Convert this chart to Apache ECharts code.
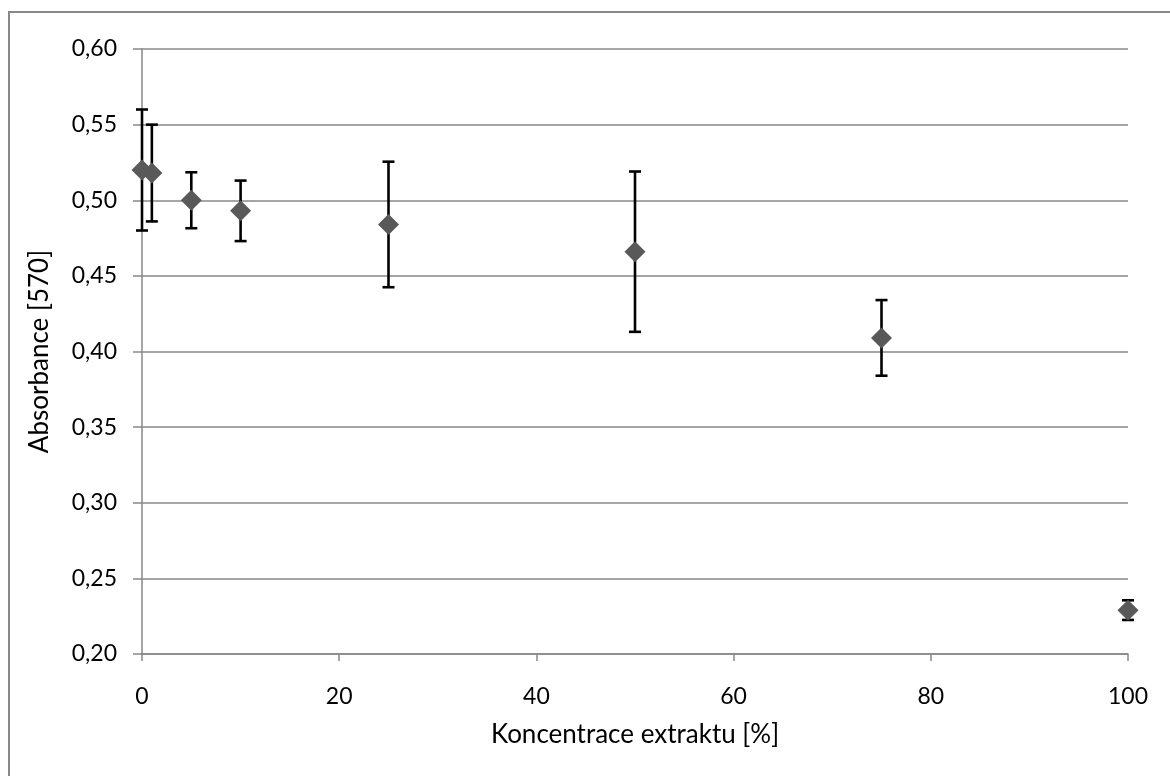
<!DOCTYPE html>
<html>
<head>
<meta charset="utf-8">
<script src="https://cdn.jsdelivr.net/npm/echarts@6/dist/echarts.min.js"></script>
<style>
  html, body { margin: 0; padding: 0; background: #fff; }
  #chart { width: 1170px; height: 776px; }
</style>
</head>
<body>
<div id="chart"></div>
<script>
// koncentrace extraktu [%]
const concentrations = [0, 1, 5, 10, 25, 50, 75, 100];
// absorbance at 570 nm (means)
const absorbance = [0.520, 0.518, 0.500, 0.493, 0.484, 0.466, 0.409, 0.229];
// error bar half-widths
const errors = [0.040, 0.032, 0.0185, 0.020, 0.0415, 0.053, 0.025, 0.0065];

const xTitle = 'Koncentrace extraktu [%]';
const yTitle = 'Absorbance [570]';

const points = concentrations.map((c, i) => [c, absorbance[i]]);
const bars = concentrations.map((c, i) => [c, absorbance[i] - errors[i], absorbance[i] + errors[i]]);

const font = 'Lato, "Open Sans", sans-serif';
const gray = '#888888';

const chart = echarts.init(document.getElementById('chart'), null, {renderer: 'canvas'});

chart.setOption({
  backgroundColor: '#ffffff',
  animation: false,
  graphic: [{
    type: 'rect',
    shape: {x: 9, y: 12, width: 1200, height: 800},
    style: {fill: 'none', stroke: gray, lineWidth: 2},
    silent: true
  }],
  grid: {left: 142, right: 42, top: 49, bottom: 122},
  xAxis: {
    type: 'value',
    min: 0, max: 100, interval: 20,
    name: xTitle,
    nameLocation: 'middle',
    nameGap: 68,
    nameTextStyle: {fontFamily: font, fontSize: 26, color: '#000'},
    axisLine: {show: true, onZero: false, lineStyle: {color: gray, width: 1.5}},
    axisTick: {show: true, length: 7, lineStyle: {color: gray, width: 1.5}},
    axisLabel: {fontFamily: font, fontSize: 23, color: '#000', margin: 31},
    splitLine: {show: false}
  },
  yAxis: {
    type: 'value',
    min: 0.2, max: 0.6, interval: 0.05,
    name: yTitle,
    nameLocation: 'middle',
    nameGap: 89,
    nameTextStyle: {fontFamily: font, fontSize: 26, color: '#000'},
    axisLine: {show: true, lineStyle: {color: gray, width: 1.5}},
    axisTick: {show: true, length: 9, lineStyle: {color: gray, width: 1.5}},
    axisLabel: {
      fontFamily: font, fontSize: 23, color: '#000', margin: 25,
      formatter: v => v.toFixed(2).replace('.', ',')
    },
    splitLine: {show: true, lineStyle: {color: gray, width: 1.5}}
  },
  series: [
    {
      type: 'custom',
      data: bars,
      z: 2,
      renderItem: (params, api) => {
        const x = api.value(0);
        const lo = api.coord([x, api.value(1)]);
        const hi = api.coord([x, api.value(2)]);
        const cap = 6;
        const style = {stroke: '#000', lineWidth: 2.6};
        return {
          type: 'group',
          children: [
            {type: 'line', shape: {x1: lo[0], y1: lo[1], x2: hi[0], y2: hi[1]}, style: style},
            {type: 'line', shape: {x1: lo[0] - cap, y1: lo[1], x2: lo[0] + cap, y2: lo[1]}, style: style},
            {type: 'line', shape: {x1: hi[0] - cap, y1: hi[1], x2: hi[0] + cap, y2: hi[1]}, style: style}
          ]
        };
      }
    },
    {
      type: 'scatter',
      data: points,
      z: 3,
      symbol: 'diamond',
      symbolSize: 21,
      itemStyle: {color: '#595959', opacity: 1}
    }
  ]
});
</script>
</body>
</html>
